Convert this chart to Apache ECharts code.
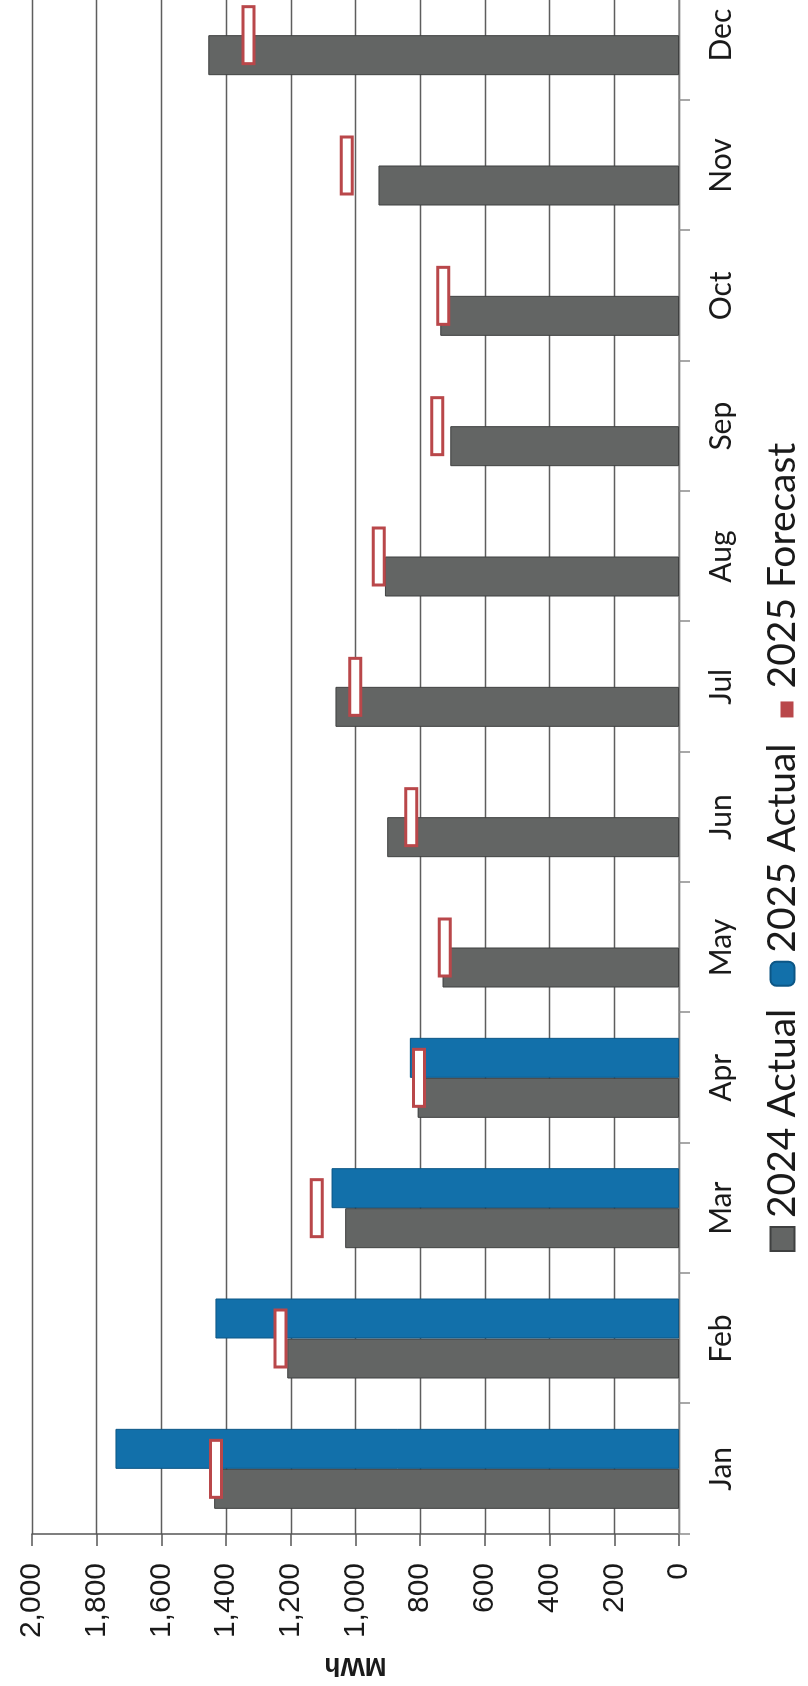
<!DOCTYPE html>
<html>
<head>
<meta charset="utf-8">
<script src="https://cdn.jsdelivr.net/npm/echarts@6/dist/echarts.min.js"></script>
<style>
  html, body { margin: 0; padding: 0; width: 808px; height: 1686px; overflow: hidden; background: #ffffff; }
  /* The column chart is laid out landscape and turned a quarter turn counter-clockwise;
     its last 30px run past the top edge of the page. */
  #chart {
    position: absolute; left: 0; top: 0;
    width: 1716px; height: 808px;
    transform-origin: 0 0;
    transform: translateY(1686px) rotate(-90deg);
  }
</style>
</head>
<body>
<div id="chart"></div>
<script>
// Monthly energy, MWh
const months = ['Jan', 'Feb', 'Mar', 'Apr', 'May', 'Jun', 'Jul', 'Aug', 'Sep', 'Oct', 'Nov', 'Dec'];
const actual2024 = [1437, 1211, 1032, 808, 731, 902, 1062, 909, 707, 738, 929, 1455];
const actual2025 = [1742, 1433, 1074, 832, null, null, null, null, null, null, null, null];
const forecast2025 = [1431, 1232, 1120, 804, 724, 828, 1001, 928, 747, 729, 1027, 1331];
const seriesNames = ['2024 Actual', '2025 Actual', '2025 Forecast'];
const mwhMin = 0, mwhMax = 2000, mwhStep = 200;

const forecastRed = '#b9474a';
const chart = echarts.init(document.getElementById('chart'), null, { renderer: 'canvas' });

chart.setOption({
  animation: false,
  backgroundColor: '#ffffff',
  grid: { left: 150, right: 0, top: 32, bottom: 129, containLabel: false },
  legend: {
    data: [
      { name: seriesNames[0], icon: 'rect' },
      { name: seriesNames[1], icon: 'roundRect' },
      { name: seriesNames[2], icon: 'path://M0,0M24,24M4,10L20,10L20,23L4,23Z',
        itemStyle: { color: forecastRed, borderWidth: 0 } }
    ],
    left: 429,
    top: 758,
    itemWidth: 24,
    itemHeight: 24,
    itemGap: 22,
    selectedMode: false,
    textStyle: { fontFamily: 'Lato', fontSize: 39, color: '#1a1a1a', padding: [0, 0, 0, 4] }
  },
  xAxis: {
    type: 'category',
    data: months,
    boundaryGap: true,
    axisLine: { show: true, lineStyle: { color: '#8c8c8c', width: 1.5 } },
    axisTick: { show: true, length: 11, lineStyle: { color: '#8c8c8c', width: 1.5 } },
    axisLabel: { margin: 27, fontFamily: 'Lato', fontSize: 30, color: '#1a1a1a' },
    splitLine: { show: false }
  },
  yAxis: {
    type: 'value',
    min: mwhMin,
    max: mwhMax,
    interval: mwhStep,
    name: 'MWh',
    nameLocation: 'middle',
    nameRotate: 90,
    nameGap: 118,
    nameTextStyle: { fontFamily: 'Liberation Sans', fontWeight: 'bold', fontSize: 26, color: '#1a1a1a' },
    axisLine: { show: true, lineStyle: { color: '#555555', width: 1.5 } },
    axisTick: { show: true, length: 12, lineStyle: { color: '#555555', width: 1.5 } },
    axisLabel: {
      margin: 29, fontFamily: 'Liberation Sans', fontSize: 30, color: '#1a1a1a',
      formatter: v => v.toLocaleString('en-US')
    },
    splitLine: { show: true, lineStyle: { color: '#5e5e5e', width: 1.4 } }
  },
  series: [
    {
      name: seriesNames[0],
      type: 'bar',
      data: actual2024,
      barWidth: 40,
      barGap: '0%',
      itemStyle: { color: '#636564', borderColor: '#3f4040', borderWidth: 1 },
      emphasis: { disabled: true }
    },
    {
      name: seriesNames[1],
      type: 'bar',
      data: actual2025,
      barWidth: 40,
      barGap: '0%',
      itemStyle: { color: '#1270aa', borderColor: '#0c5685', borderWidth: 1 },
      emphasis: { disabled: true }
    },
    {
      // Forecast dash: a hollow bar-wide marker at each month's value
      name: seriesNames[2],
      type: 'custom',
      z: 5,
      data: forecast2025.map((v, i) => [i, v]),
      encode: { x: 0, y: 1 },
      itemStyle: { color: forecastRed },
      renderItem: (params, api) => {
        const p = api.coord([api.value(0), api.value(1)]);
        const w = 57, h = 11;
        return {
          type: 'rect',
          shape: { x: p[0] - w / 2, y: p[1] - h / 2, width: w, height: h },
          style: { fill: '#ffffff', stroke: forecastRed, lineWidth: 3 }
        };
      },
      emphasis: { disabled: true }
    }
  ]
});
</script>
</body>
</html>
